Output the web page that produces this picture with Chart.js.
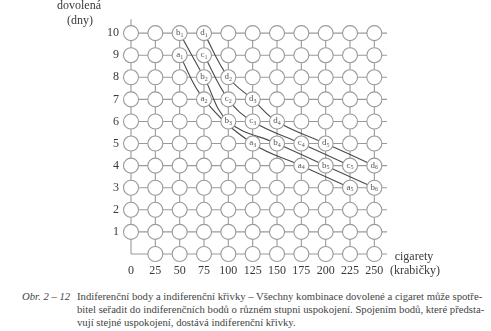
<!DOCTYPE html>
<html>
<head>
<meta charset="utf-8">
<script src="https://cdn.jsdelivr.net/npm/chart.js@4/dist/chart.umd.min.js"></script>
<style>
    body { margin: 0; background: #fff; width: 491px; height: 331px; overflow: hidden; position: relative; }
    #chart { position: absolute; left: 0; top: 0; }
    .caption { position: absolute; font-family: "Liberation Serif", "Times New Roman", serif; font-size: 10.7px; color: #444; line-height: 13px; white-space: nowrap; }
    #obr { left: 22px; top: 290px; font-style: italic; }
    #text { left: 77px; top: 290px; }
</style>
</head>
<body>
<canvas id="chart" width="491" height="290"></canvas>
<div class="caption" id="obr">Obr. 2 – 12</div>
<div class="caption" id="text">Indiferenční body a indiferenční křivky – Všechny kombinace dovolené a cigaret může spotře-<br>bitel seřadit do indiferenčních bodů o různém stupni uspokojení. Spojením bodů, které předsta-<br>vují stejné uspokojení, dostává indiferenční křivky.</div>
<script>
// tick values
const cigarety = [0, 25, 50, 75, 100, 125, 150, 175, 200, 225, 250];
const dovolena = [0, 1, 2, 3, 4, 5, 6, 7, 8, 9, 10];

// indifference curves (cigarety, dny)
const aX = [50, 75, 125, 175, 225];
const aY = [9, 7, 5, 4, 3];
const bX = [50, 75, 100, 150, 200, 250];
const bY = [10, 8, 6, 5, 4, 3];
const cX = [75, 100, 125, 175, 225];
const cY = [9, 7, 6, 5, 4];
const dX = [75, 100, 125, 150, 200, 250];
const dY = [10, 8, 7, 6, 5, 4];

const curves = [
    { name: 'a', xs: aX, ys: aY },
    { name: 'b', xs: bX, ys: bY },
    { name: 'c', xs: cX, ys: cY },
    { name: 'd', xs: dX, ys: dY }
];

const gridColor = '#9a9a9a';
const curveColor = '#4a4a4a';
const textColor = '#3a3a3a';
const serif = '"Liberation Serif", "Times New Roman", serif';

// every grid node has a circle, except the origin
const nodes = [];
dovolena.forEach(y => {
    cigarety.forEach(x => {
        if (x === 0 && y === 0) return;
        nodes.push({ x, y });
    });
});

const datasets = curves.map(c => ({
    type: 'line',
    label: c.name,
    data: c.xs.map((x, i) => ({ x, y: c.ys[i] })),
    borderColor: curveColor,
    borderWidth: 1.1,
    tension: 0.4,
    pointRadius: 0,
    fill: false,
    clip: false,
    order: 1
}));
datasets.push({
    type: 'scatter',
    label: 'body',
    data: nodes,
    pointRadius: 7.5,
    pointBackgroundColor: '#fff',
    pointBorderColor: gridColor,
    pointBorderWidth: 1.1,
    clip: false,
    order: 0
});

const gridPlugin = {
    id: 'grid',
    beforeDatasetsDraw(chart) {
        const { ctx, scales: { x, y }, chartArea } = chart;
        ctx.save();
        ctx.strokeStyle = gridColor;
        ctx.lineWidth = 1.1;
        ctx.beginPath();
        cigarety.forEach(v => {
            const px = x.getPixelForValue(v);
            const top = v === 0 ? chartArea.top : y.getPixelForValue(10);
            ctx.moveTo(px, y.getPixelForValue(0));
            ctx.lineTo(px, top);
        });
        dovolena.forEach(v => {
            const py = y.getPixelForValue(v);
            ctx.moveTo(x.getPixelForValue(0), py);
            ctx.lineTo(chartArea.right, py);
        });
        ctx.stroke();
        ctx.restore();
    },
    afterDatasetsDraw(chart) {
        const { ctx, scales: { x, y } } = chart;
        ctx.save();
        ctx.fillStyle = '#555';
        ctx.textBaseline = 'middle';
        curves.forEach(c => {
            c.xs.forEach((xv, i) => {
                const px = x.getPixelForValue(xv);
                const py = y.getPixelForValue(c.ys[i]);
                ctx.font = '9px ' + serif;
                const w1 = ctx.measureText(c.name).width;
                ctx.font = '6px ' + serif;
                const sub = String(i + 1);
                const w2 = ctx.measureText(sub).width;
                const start = px - (w1 + w2) / 2;
                ctx.textAlign = 'left';
                ctx.font = '9px ' + serif;
                ctx.fillText(c.name, start, py - 0.5);
                ctx.font = '6px ' + serif;
                ctx.fillText(sub, start + w1, py + 2);
            });
        });
        // axis titles
        ctx.fillStyle = textColor;
        ctx.font = '12px ' + serif;
        ctx.textAlign = 'center';
        ctx.fillText('dovolená', 79, 6);
        ctx.fillText('(dny)', 80, 21);
        ctx.fillText('cigarety', 414, 257);
        ctx.fillText('(krabičky)', 415, 271);
        ctx.restore();
    }
};

new Chart(document.getElementById('chart'), {
    data: { datasets },
    options: {
        responsive: false,
        devicePixelRatio: 1,
        animation: false,
        layout: { padding: { left: 0, right: 104, top: 0, bottom: 0 } },
        plugins: { legend: { display: false }, tooltip: { enabled: false } },
        scales: {
            x: {
                type: 'linear',
                min: 0,
                max: 263,
                grid: { display: false, drawTicks: false },
                border: { display: false },
                afterBuildTicks: s => { s.ticks = cigarety.map(v => ({ value: v })); },
                afterFit: s => { s.height = 36; },
                ticks: { padding: 10, color: textColor, font: { family: serif, size: 12 }, maxRotation: 0, autoSkip: false }
            },
            y: {
                type: 'linear',
                min: 0,
                max: 10.63,
                grid: { display: false, drawTicks: false },
                border: { display: false },
                afterBuildTicks: s => { s.ticks = dovolena.filter(v => v > 0).map(v => ({ value: v })); },
                afterFit: s => { s.width = 131; },
                ticks: { padding: 12, color: textColor, font: { family: serif, size: 12 }, autoSkip: false }
            }
        }
    },
    plugins: [gridPlugin]
});
</script>
</body>
</html>
